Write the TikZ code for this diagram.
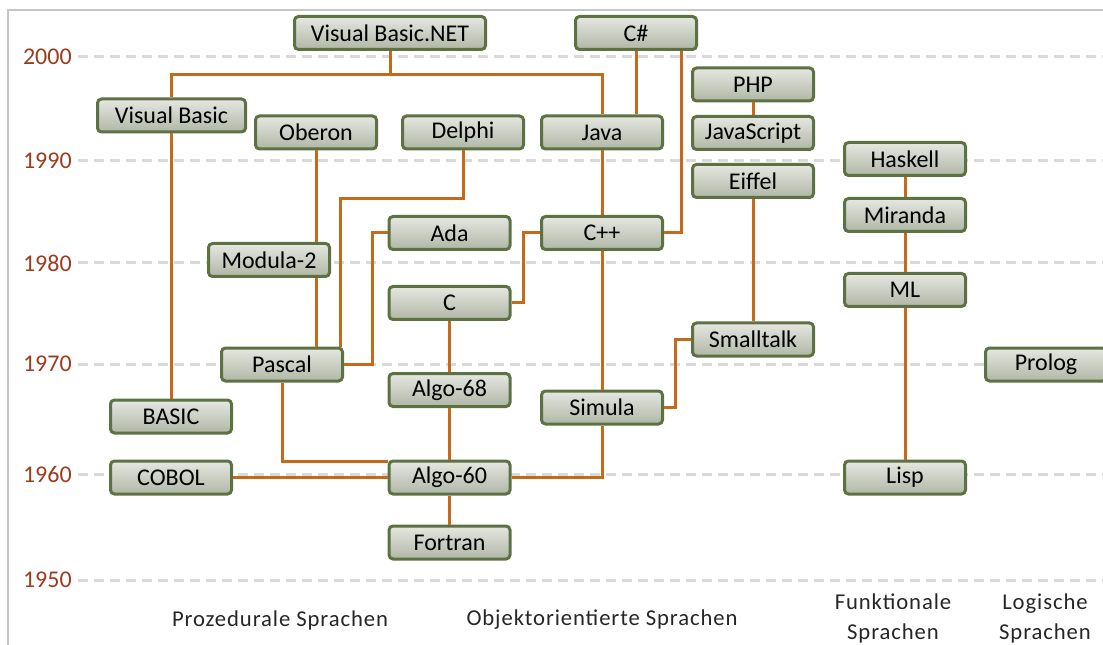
\documentclass[tikz,border=0pt]{standalone}
\usepackage{fontspec}
\setmainfont{Carlito}
\newfontfamily\achsenfont[LetterSpace=4]{Carlito}
\definecolor{rahmengruen}{RGB}{94,113,66}
\definecolor{boxoben}{RGB}{229,231,225}
\definecolor{boxunten}{RGB}{176,183,166}
\definecolor{linienorange}{RGB}{197,106,27}
\definecolor{jahrrot}{RGB}{156,60,30}
\definecolor{gitter}{RGB}{217,217,217}
\begin{document}
\begin{tikzpicture}[x=0.75pt,y=-0.75pt]
            \tikzstyle{sprache}=[rectangle,rounded corners=3pt,draw=rahmengruen,line width=2.25pt,top color=boxoben,bottom color=boxunten,minimum width=90.75pt,minimum height=24.75pt,inner sep=0pt,font=\fontsize{18pt}{22pt}\selectfont]
            \tikzstyle{jahr}=[anchor=east,text=jahrrot,inner sep=0pt,font=\fontsize{18pt}{22pt}\selectfont]
            \tikzstyle{gruppe}=[align=center,inner sep=0pt,text=black!85,font=\achsenfont\fontsize{17pt}{22.5pt}\selectfont]
            \tikzset{edge/.style = {draw=linienorange,line width=2.25pt}}
            \tikzset{raster/.style = {draw=gitter,line width=2.25pt,dash pattern=on 7.5pt off 4.5pt}}
            \useasboundingbox (0,0) rectangle (1103,645);
            \draw[gray!45,line width=0.8pt] (8,645) -- (8,10) -- (1103,10);
            \node[jahr] (j2000) at (72,57) {2000};
            \node[jahr] (j1990) at (72,161) {1990};
            \node[jahr] (j1980) at (72,263) {1980};
            \node[jahr] (j1970) at (72,364) {1970};
            \node[jahr] (j1960) at (72,474) {1960};
            \node[jahr] (j1950) at (72,580) {1950};
            \draw[raster] (78,57) -- (1103,57);
            \draw[raster] (78,161) -- (1103,161);
            \draw[raster] (78,263) -- (1103,263);
            \draw[raster] (78,364) -- (1103,364);
            \draw[raster] (78,474) -- (1103,474);
            \draw[raster] (78,580) -- (1103,580);
            \node[sprache,minimum width=143.25pt] (vbnet) at (390,33) {Visual Basic.NET};
            \node[sprache] (csharp) at (636,33) {C\#};
            \node[sprache,minimum width=111pt] (vb) at (171.5,115.5) {Visual Basic};
            \node[sprache] (oberon) at (316,132.5) {Oberon};
            \node[sprache] (delphi) at (463,132.5) {Delphi};
            \node[sprache] (java) at (602,132.5) {Java};
            \node[sprache] (php) at (753,84.5) {PHP};
            \node[sprache] (js) at (753,133) {JavaScript};
            \node[sprache] (eiffel) at (753,181) {Eiffel};
            \node[sprache] (haskell) at (905,159) {Haskell};
            \node[sprache] (miranda) at (905,215) {Miranda};
            \node[sprache] (ml) at (905,290) {ML};
            \node[sprache] (modula) at (269,260) {Modula-2};
            \node[sprache] (ada) at (449.5,233) {Ada};
            \node[sprache] (cpp) at (602,233) {C++};
            \node[sprache] (c) at (449.5,303) {C};
            \node[sprache] (smalltalk) at (753,339.5) {Smalltalk};
            \node[sprache] (pascal) at (282,364.5) {Pascal};
            \node[sprache] (prolog) at (1046,364.5) {Prolog};
            \node[sprache] (algo68) at (449.5,390) {Algo-68};
            \node[sprache] (simula) at (602,407.5) {Simula};
            \node[sprache] (basic) at (171,416.5) {BASIC};
            \node[sprache] (cobol) at (171,477.5) {COBOL};
            \node[sprache] (algo60) at (449.5,477.5) {Algo-60};
            \node[sprache] (lisp) at (905,477.5) {Lisp};
            \node[sprache] (fortran) at (449.5,542.5) {Fortran};
            \draw[edge] (vbnet.south) -- ++(0,24) -| (vb.north);
            \draw[edge] (vbnet.south) -- ++(0,24) -| (java.north);
            \draw[edge] (csharp.south) -- (csharp.south |- java.north);
            \draw[edge] ([xshift=-12.75pt]csharp.south east) |- (cpp.east);
            \draw[edge] (vb.south) -- (vb.south |- basic.north);
            \draw[edge] (oberon.south) -- (oberon.south |- modula.north);
            \draw[edge] (oberon.south |- modula.south) -- (oberon.south |- pascal.north);
            \draw[edge] (delphi.south) -- ++(0,48) -| ([xshift=-3pt]pascal.north east);
            \draw[edge] (pascal.east) -- ++(28,0) |- (ada.west);
            \draw[edge] (c.east) -- ++(12,0) |- (cpp.west);
            \draw[edge] (java.south) -- (cpp.north);
            \draw[edge] (cpp.south) -- (simula.north);
            \draw[edge] (c.south) -- (algo68.north);
            \draw[edge] (algo68.south) -- (algo60.north);
            \draw[edge] (algo60.south) -- (fortran.north);
            \draw[edge] (pascal.south) |- ([yshift=-1.5pt]algo60.north west);
            \draw[edge] (cobol.east) -- (algo60.west);
            \draw[edge] (algo60.east) -| (simula.south);
            \draw[edge] (simula.east) -- ++(11,0) |- (smalltalk.west);
            \draw[edge] (eiffel.south) -- (smalltalk.north);
            \draw[edge] (php.south) -- (js.north);
            \draw[edge] (haskell.south) -- (miranda.north);
            \draw[edge] (miranda.south) -- (ml.north);
            \draw[edge] (ml.south) -- (lisp.north);
            \node[gruppe] (prozedural) at (280,620) {Prozedurale Sprachen};
            \node[gruppe] (objekt) at (602,620) {Objektorientierte Sprachen};
            \node[gruppe] (funktional) at (893,618) {Funktionale\\Sprachen};
            \node[gruppe] (logisch) at (1045,618) {Logische\\Sprachen};
        \end{tikzpicture}
\end{document}
